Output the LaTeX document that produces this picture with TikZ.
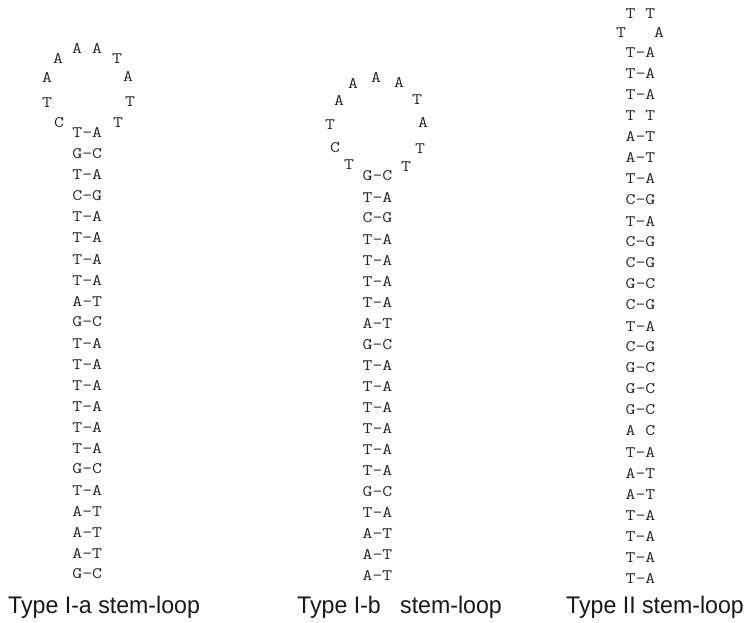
\documentclass[tikz,border=0pt]{standalone}
\usepackage{fontspec}
\usepackage{graphicx}
\newfontfamily\labfont{Liberation Sans}
\newcommand\seqtxt[1]{\scalebox{1.2}[1]{#1}}
\newcommand\labtxt[1]{\scalebox{0.965}[1]{#1}}
\tikzset{
  base/.style={font=\ttfamily\fontsize{16}{16}\selectfont, inner sep=0pt, text=black!85},
  lbl/.style={font=\labfont\fontsize{24}{26}\selectfont, inner sep=0pt, anchor=base west, text=black!90},
}
\begin{document}
\begin{tikzpicture}[x=1pt,y=-1pt]
\useasboundingbox (0,0) rectangle (745,623);
% ---------- Type I-a ----------
\foreach \t [count=\i from 0] in {T-A,G-C,T-A,C-G,T-A,T-A,T-A,T-A,A-T,G-C,T-A,T-A,T-A,T-A,T-A,T-A,G-C,T-A,A-T,A-T,A-T,G-C}
  \node[base] (a\i) at (87.3,{133+21*\i}) {\seqtxt{\t}};
\foreach \t/\x/\y [count=\i] in {C/59/123,T/47/103,A/47/78,A/58/59,A/77/49,A/97/49,T/117/59,A/128/77,T/130/102,T/118/123}
  \node[base] (la\i) at (\x,\y) {\seqtxt{\t}};
% ---------- Type I-b ----------
\foreach \t [count=\i from 0] in {G-C,T-A,C-G,T-A,T-A,T-A,T-A,A-T,G-C,T-A,T-A,T-A,T-A,T-A,T-A,G-C,T-A,A-T,A-T,A-T}
  \node[base] (b\i) at (377.5,{176+21.05*\i}) {\seqtxt{\t}};
\foreach \t/\x/\y [count=\i] in {T/349/165,C/335/148,T/330/125,A/339/101,A/353/84,A/376/78,A/399/83,T/417/100,A/423/123,T/420/149,T/406/167}
  \node[base] (lb\i) at (\x,\y) {\seqtxt{\t}};
% ---------- Type II ----------
\foreach \t [count=\i from 0] in {T-A,T-A,T-A,T T,A-T,A-T,T-A,C-G,T-A,C-G,C-G,G-C,C-G,T-A,C-G,G-C,G-C,G-C,A C,T-A,A-T,A-T,T-A,T-A,T-A,T-A}
  \node[base] (c\i) at (640.5,{53+21*\i}) {\seqtxt{\t}};
\node[base] (lc1) at (640.5,14) {\seqtxt{T T}};
\node[base] (lc2) at (621,33) {\seqtxt{T}};
\node[base] (lc3) at (659,33) {\seqtxt{A}};
% ---------- labels ----------
\node[lbl] (t1) at (8,613) {\labtxt{Type I-a stem-loop}};
\node[lbl] (t2) at (297,613) {\labtxt{Type I-b\ \ \ stem-loop}};
\node[lbl] (t3) at (566,613) {\labtxt{Type II stem-loop}};
\end{tikzpicture}
\end{document}
